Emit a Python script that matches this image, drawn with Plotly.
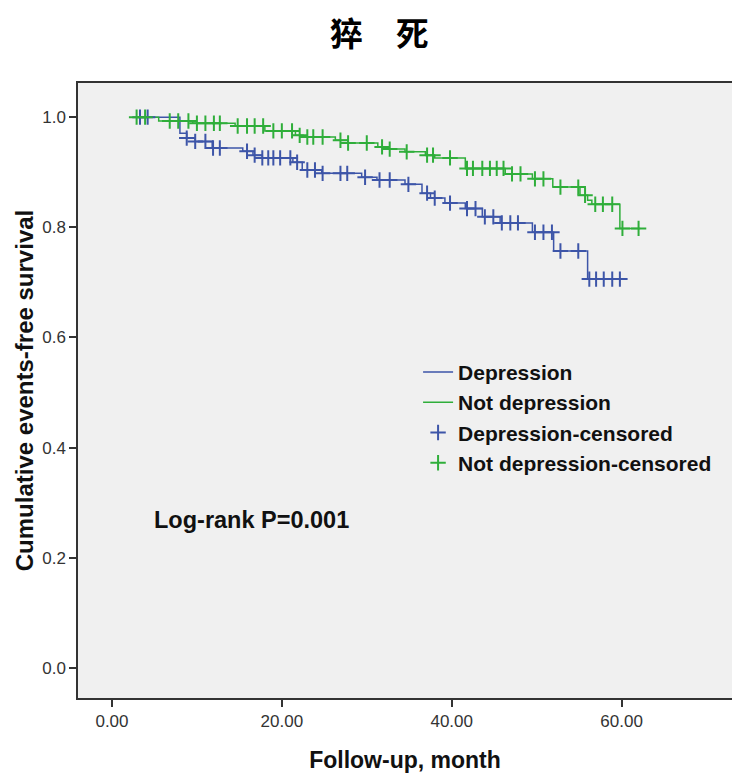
import numpy as np
import plotly.graph_objects as go

# ---- data ----
dep_t = [3.0, 8.0, 8.8, 9.8, 11.8, 15.4, 16.6, 17.7, 21.3, 22.4, 24.7, 29.4, 31.2, 34.5,
         36.5, 37.5, 39.2, 41.6, 43.6, 45.7, 49.5, 52.0, 56.0, 60.2]
dep_s = [1.0, 0.971, 0.962, 0.956, 0.944, 0.938, 0.931, 0.926, 0.918, 0.904, 0.898, 0.891,
         0.886, 0.878, 0.862, 0.853, 0.844, 0.834, 0.819, 0.808, 0.791, 0.757, 0.706, 0.706]
dep_cens = [3.3, 4.2, 8.8, 9.8, 11.0, 11.9, 12.7, 15.9, 16.8, 17.7, 18.4, 19.0, 19.8, 21.0,
            21.8, 23.0, 23.9, 24.8, 26.9, 27.7, 29.8, 31.5, 32.7, 34.9, 37.1, 38.0, 39.8,
            41.8, 42.8, 43.9, 44.9, 45.9, 46.9, 47.8, 49.8, 50.8, 51.8, 52.8, 54.9, 56.2,
            57.0, 57.9, 58.9, 59.8]

nodep_t = [3.0, 5.5, 9.5, 14.5, 18.0, 21.6, 22.5, 26.3, 27.8, 31.3, 32.5, 34.5, 36.9, 38.0,
           41.6, 46.3, 49.5, 51.9, 55.1, 56.0, 56.5, 59.8, 62.2]
nodep_s = [1.0, 0.993, 0.989, 0.984, 0.975, 0.967, 0.964, 0.958, 0.953, 0.946, 0.942, 0.937,
           0.931, 0.926, 0.907, 0.897, 0.888, 0.873, 0.858, 0.849, 0.842, 0.798, 0.798]
nodep_cens = [2.9, 3.9, 6.8, 7.8, 9.0, 10.0, 11.0, 12.0, 12.7, 14.8, 15.9, 16.8, 17.8, 19.0,
              20.0, 21.2, 22.1, 23.0, 23.7, 24.8, 26.9, 27.8, 30.0, 31.8, 32.7, 34.7, 37.1,
              37.8, 39.8, 41.8, 42.5, 43.6, 44.5, 45.3, 46.1, 47.1, 48.1, 49.8, 50.8, 52.8,
              54.9, 55.7, 56.9, 57.8, 58.9, 60.1, 62.0]

x_ticks = [0, 20, 40, 60]
x_tick_labels = ["0.00", "20.00", "40.00", "60.00"]
y_ticks = [0.0, 0.2, 0.4, 0.6, 0.8, 1.0]
y_tick_labels = ["0.0", "0.2", "0.4", "0.6", "0.8", "1.0"]

BLUE = "#3D55A8"
GREEN = "#2FAE3A"
SANS = "Liberation Sans, Arial, sans-serif"


def step_value(times, surv, t):
    idx = np.searchsorted(np.array(times), t, side="right") - 1
    idx = max(idx, 0)
    return surv[idx]


dep_cens_s = [step_value(dep_t, dep_s, t) for t in dep_cens]
nodep_cens_s = [step_value(nodep_t, nodep_s, t) for t in nodep_cens]

fig = go.Figure()
fig.add_trace(go.Scatter(x=dep_t, y=dep_s, mode="lines", line=dict(color=BLUE, width=1.5, shape="hv"),
                         name="Depression"))
fig.add_trace(go.Scatter(x=nodep_t, y=nodep_s, mode="lines", line=dict(color=GREEN, width=1.5, shape="hv"),
                         name="Not depression"))
fig.add_trace(go.Scatter(x=dep_cens, y=dep_cens_s, mode="markers",
                         marker=dict(symbol="cross-thin", size=11, line=dict(color=BLUE, width=2)),
                         name="Depression-censored"))
fig.add_trace(go.Scatter(x=nodep_cens, y=nodep_cens_s, mode="markers",
                         marker=dict(symbol="cross-thin", size=11, line=dict(color=GREEN, width=2)),
                         name="Not depression-censored"))

fig.update_layout(
    width=732, height=773,
    margin=dict(l=78, r=0, t=83, b=75),
    paper_bgcolor="white",
    plot_bgcolor="#F0F0F0",
    title=dict(text="猝\u3000死", x=0.518, xanchor="center", y=0.955, yanchor="middle",
               font=dict(family="Noto Sans CJK SC", size=33, color="#000", weight="bold")),
    xaxis=dict(range=[-4.0, 73.0], tickvals=x_ticks, ticktext=x_tick_labels,
               showgrid=False, zeroline=False, showline=True, linecolor="#333", linewidth=1.5,
               mirror=True, ticks="outside", ticklen=7, tickcolor="#333", tickwidth=1.5,
               tickfont=dict(family=SANS, size=17, color="#333"),
               title=dict(text="Follow-up, month", standoff=24,
                          font=dict(family=SANS, size=23, color="#111", weight="bold"))),
    yaxis=dict(range=[-0.0545, 1.062], tickvals=y_ticks, ticktext=y_tick_labels,
               showgrid=False, zeroline=False, showline=True, linecolor="#333", linewidth=1.5,
               ticks="outside", ticklen=7, tickcolor="#333", tickwidth=1.5,
               tickfont=dict(family=SANS, size=17, color="#333"),
               title=dict(text="Cumulative events-free survival", standoff=2,
                          font=dict(family=SANS, size=24, color="#111", weight="bold"))),
    legend=dict(x=0.52, y=0.563, xanchor="left", yanchor="top", bgcolor="rgba(0,0,0,0)",
                font=dict(family=SANS, size=21, color="#111", weight="bold"),
                tracegroupgap=0, itemwidth=30),
    showlegend=True,
    annotations=[
        dict(text="Log-rank P=0.001", x=0.113, y=0.289, xref="paper", yref="paper",
             xanchor="left", yanchor="middle", showarrow=False,
             font=dict(family=SANS, size=23.5, color="#111", weight="bold")),
    ],
)

fig.write_html("out.html")
